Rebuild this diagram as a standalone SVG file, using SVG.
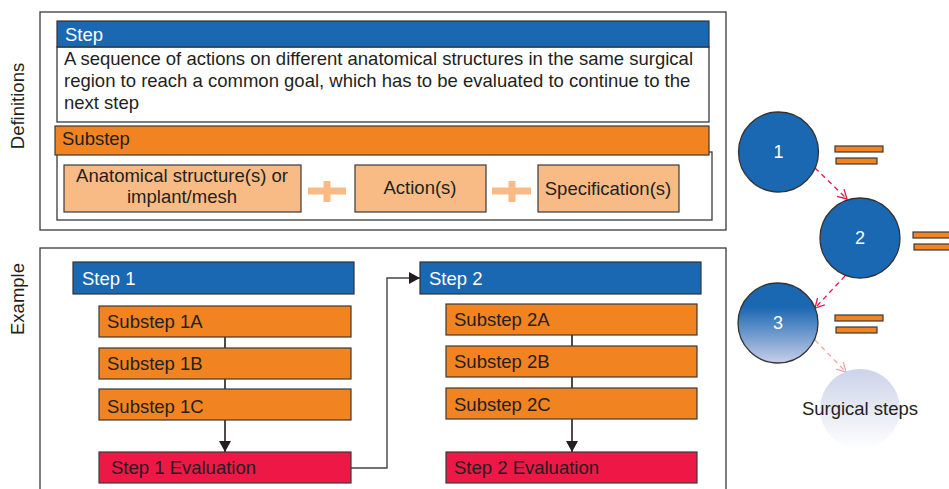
<svg xmlns="http://www.w3.org/2000/svg" width="949" height="489" viewBox="0 0 949 489">
<defs>
<style>
text{font-family:"Liberation Sans",Arial,sans-serif;font-size:18.5px;fill:#231f20}
.w{fill:#fff}
.num{font-size:18px}
.frame{fill:#fff;stroke:#3a3a3a;stroke-width:1.3}
.blue{fill:#1a67b2;stroke:#333;stroke-width:1.2}
.orange{fill:#f28321;stroke:#3a3a3a;stroke-width:1.2}
.light{fill:#f9bb86;stroke:#3a3a3a;stroke-width:1.2}
.red{fill:#ed1846;stroke:#3a3a3a;stroke-width:1.2}
.plus{stroke:#f9bb86;stroke-width:7;fill:none}
.bar{fill:#f28321;stroke:#3a3a3a;stroke-width:1.2}
.line{stroke:#231f20;stroke-width:1.6;fill:none}
.dash{stroke:#e8174a;stroke-width:1.3;fill:none;stroke-dasharray:5 4}
.dashl{stroke:#f5a3a3;stroke-width:1.3;fill:none;stroke-dasharray:5 4}
</style>
<linearGradient id="g3" x1="0" y1="0" x2="0" y2="1">
<stop offset="0.3" stop-color="#1a67b2"/>
<stop offset="1" stop-color="#c8cfe9"/>
</linearGradient>
<linearGradient id="g4" x1="0" y1="0" x2="0" y2="1">
<stop offset="0" stop-color="#ccd3e9"/>
<stop offset="1" stop-color="#ffffff"/>
</linearGradient>
<marker id="ah" markerWidth="12" markerHeight="12" refX="11" refY="6" orient="auto" markerUnits="userSpaceOnUse">
<path d="M0,0 L11,6 L0,12 Z" fill="#231f20"/>
</marker>
<marker id="oa" markerWidth="12" markerHeight="12" refX="10" refY="6" orient="auto" markerUnits="userSpaceOnUse">
<path d="M1,1 L10,6 L1,11" fill="none" stroke="#e8174a" stroke-width="1.3"/>
</marker>
<marker id="oal" markerWidth="12" markerHeight="12" refX="10" refY="6" orient="auto" markerUnits="userSpaceOnUse">
<path d="M1,1 L10,6 L1,11" fill="none" stroke="#f5a3a3" stroke-width="1.3"/>
</marker>
</defs>

<g id="definitions">
<rect class="frame" x="40" y="12" width="686" height="218"/>
<text transform="translate(24,106) rotate(-90)" text-anchor="middle">Definitions</text>
</g>

<g id="step-def">
<rect class="frame" x="57" y="47" width="652" height="75"/>
<rect class="blue" x="57" y="21" width="652" height="26"/>
<text class="w" x="65" y="41">Step</text>
<text x="64" y="65">A sequence of actions on different anatomical structures in the same surgical</text>
<text x="64" y="87">region to reach a common goal, which has to be evaluated to continue to the</text>
<text x="64" y="109">next step</text>
</g>

<g id="substep-def">
<rect class="frame" x="57" y="152" width="655" height="68"/>
<rect class="orange" x="55" y="126" width="654" height="29"/>
<text x="62" y="145">Substep</text>
</g>

<g id="anatomical">
<rect class="light" x="64" y="165" width="237" height="47"/>
<text x="182" y="182" text-anchor="middle">Anatomical structure(s) or</text>
<text x="182" y="203" text-anchor="middle">implant/mesh</text>
</g>
<g id="plus1"><path class="plus" d="M308,191 H346 M327,181 V202"/></g>
<g id="action">
<rect class="light" x="355" y="165" width="131" height="47"/>
<text x="420" y="194" text-anchor="middle">Action(s)</text>
</g>
<g id="plus2"><path class="plus" d="M492,191 H531 M512,181 V202"/></g>
<g id="specification">
<rect class="light" x="538" y="165" width="141" height="47"/>
<text x="608" y="195" text-anchor="middle">Specification(s)</text>
</g>

<g id="example">
<rect class="frame" x="40" y="248" width="686" height="250"/>
<text transform="translate(24,299) rotate(-90)" text-anchor="middle">Example</text>
</g>

<g id="connectors">
<path class="line" d="M225,337 V348 M225,379 V389"/>
<path class="line" d="M225,420 V452" marker-end="url(#ah)"/>
<path class="line" d="M572,335 V346 M572,377 V388"/>
<path class="line" d="M572,419 V452" marker-end="url(#ah)"/>
<path d="M351,468 H387 V278 H420" fill="none" stroke="#444" stroke-width="1.4" marker-end="url(#ah)"/>
<path class="dash" d="M815,168 L847,199" marker-end="url(#oa)"/>
<path class="dash" d="M845,276 L815,308" marker-end="url(#oa)"/>
<path class="dashl" d="M815,340 L846,372" marker-end="url(#oal)"/>
</g>

<g id="step1">
<rect class="blue" x="73" y="262" width="281" height="32"/>
<text class="w" x="82" y="285">Step 1</text>
</g>
<g id="substep1a"><rect class="orange" x="99" y="306" width="252" height="31"/><text x="107" y="328">Substep 1A</text></g>
<g id="substep1b"><rect class="orange" x="99" y="348" width="252" height="31"/><text x="107" y="370">Substep 1B</text></g>
<g id="substep1c"><rect class="orange" x="99" y="389" width="252" height="31"/><text x="107" y="413">Substep 1C</text></g>
<g id="eval1"><rect class="red" x="99" y="452" width="252" height="31"/><text x="111" y="474">Step 1 Evaluation</text></g>

<g id="step2">
<rect class="blue" x="420" y="262" width="281" height="32"/>
<text class="w" x="429" y="285">Step 2</text>
</g>
<g id="substep2a"><rect class="orange" x="446" y="304" width="251" height="31"/><text x="454" y="326">Substep 2A</text></g>
<g id="substep2b"><rect class="orange" x="446" y="346" width="251" height="31"/><text x="454" y="368">Substep 2B</text></g>
<g id="substep2c"><rect class="orange" x="446" y="388" width="251" height="31"/><text x="454" y="411">Substep 2C</text></g>
<g id="eval2"><rect class="red" x="446" y="452" width="251" height="31"/><text x="454" y="474">Step 2 Evaluation</text></g>

<g id="circle1">
<circle cx="778.5" cy="152" r="40" fill="#1a67b2" stroke="#333" stroke-width="1.3"/>
<text class="w num" x="778.5" y="158" text-anchor="middle">1</text>
<rect class="bar" x="835" y="146" width="48" height="6"/>
<rect class="bar" x="836" y="158" width="41" height="6"/>
</g>
<g id="circle2">
<circle cx="860" cy="238" r="40" fill="#1a67b2" stroke="#333" stroke-width="1.3"/>
<text class="w num" x="860" y="244" text-anchor="middle">2</text>
<rect class="bar" x="913" y="232" width="40" height="6"/>
<rect class="bar" x="914" y="244" width="40" height="6"/>
</g>
<g id="circle3">
<circle cx="778" cy="323" r="40" fill="url(#g3)" stroke="#333" stroke-width="1.3"/>
<text class="w num" x="778" y="329" text-anchor="middle">3</text>
<rect class="bar" x="835" y="315" width="48" height="6"/>
<rect class="bar" x="836" y="327" width="41" height="6"/>
</g>
<g id="surgical-steps">
<circle cx="860" cy="409" r="40" fill="url(#g4)"/>
<text x="860" y="415" text-anchor="middle">Surgical steps</text>
</g>
</svg>
